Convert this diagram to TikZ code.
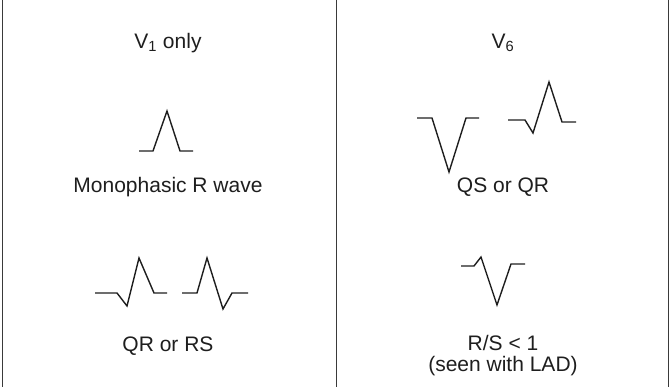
\documentclass[tikz,border=0pt]{standalone}
\usepackage{fontspec}
\setmainfont{Liberation Sans}
\usepackage{xcolor}
\usepackage{tikz}
\usetikzlibrary{positioning,calc}
\definecolor{RuleGray}{HTML}{3A3A3A}
\definecolor{InkBlack}{HTML}{1E1E1E}

\begin{document}
\begin{tikzpicture}[
    x=1pt, y=-1pt, % 以像素为单位，y 轴向下
    font=\fontsize{21}{21}\selectfont,
    rule/.style={draw=RuleGray, line width=1.8pt},
    wave/.style={draw=InkBlack, line width=1.4pt, line join=miter},
    lbl/.style={align=center, inner sep=0pt, text=InkBlack}
]
\useasboundingbox (0,0) rectangle (670,387);

% 竖直分隔线：左、中、右
\draw[rule] (2.5,0) -- (2.5,387);
\draw[rule] (336.5,0) -- (336.5,387);
\draw[rule] (668.5,0) -- (668.5,387);

% 标题行
\node[lbl] (v1) at (168,43) {V\textsubscript{1} only};
\node[lbl] (v6) at (503,43) {V\textsubscript{6}};

% 第一行波形
\draw[wave] (139,151) -- (153,151) -- (167,111) -- (180,151) -- (193,151); % 单相 R 波
\draw[wave] (417,118) -- (432,118) -- (449,172) -- (466,118) -- (479,118); % QS
\draw[wave] (508,120) -- (525,120) -- (533,133) -- (549,82) -- (562,122) -- (576,122); % QR

\node[lbl] (mono) at (168,187) {Monophasic R wave};
\node[lbl] (qsqr) at (503,187) {QS or QR};

% 第二行波形
\draw[wave] (95,293) -- (117,293) -- (127,306) -- (139,258) -- (154,293) -- (167,293); % QR
\draw[wave] (182,293) -- (197,293) -- (207,258) -- (223,309) -- (232,293) -- (248,293); % RS
\draw[wave] (461,266) -- (474,266) -- (481,257) -- (497,305) -- (511,264) -- (525,264); % R/S<1

\node[lbl] (qrrs) at (168,346) {QR or RS};
\node[lbl] (ratio) at (503,356) {R/S < 1\\(seen with LAD)};

\end{tikzpicture}
\end{document}
